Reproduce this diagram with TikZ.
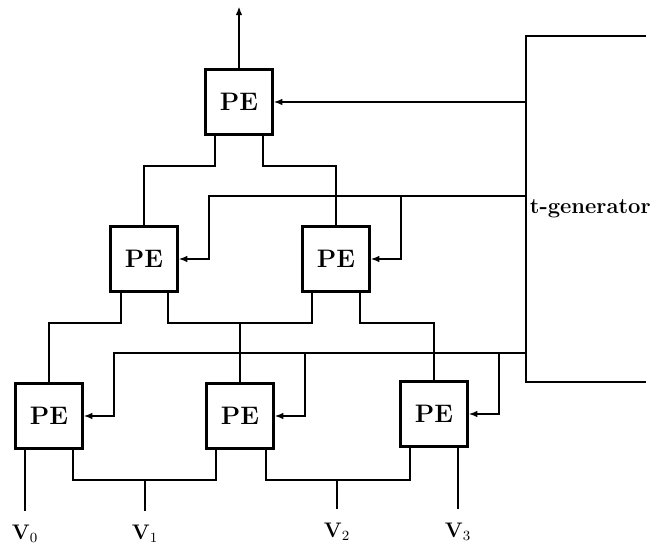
\documentclass[tikz,border=0pt]{standalone}
\usetikzlibrary{positioning,calc,arrows.meta}

\begin{document}
\begin{tikzpicture}[x=0.02cm, y=-0.02cm, line width=1.1pt, >={Latex[length=5pt,width=3.8pt]}]
    % Styles
    \tikzstyle{pe} = [draw, rectangle, line width=1.25pt, minimum width=1.34cm, minimum height=1.3cm, font=\Large\bfseries, inner sep=0pt]
    \tikzstyle{input} = [inner sep=1pt, font=\large]

    \useasboundingbox (0,0) rectangle (650,555);

    % Processing elements, root to leaves
    \node [pe] (P0) at (239,102) {PE};
    \node [pe] (P10) at (144,259) {PE};
    \node [pe] (P11) at (336,259) {PE};
    \node [pe] (P20) at (49,416) {PE};
    \node [pe] (P21) at (240,416) {PE};
    \node [pe] (P22) at (434,414) {PE};

    % t-generator block (runs off to the right)
    \draw (646,36) -- (526,36) -- (526,382) -- (646,382);
    \node [font=\fontsize{12.5}{15}\selectfont\bfseries, anchor=base west, inner sep=0pt] (Tgen) at (529,213) {t-generator};
    \coordinate (T0) at (526,102);
    \coordinate (T1) at (526,196);
    \coordinate (T2) at (526,353);

    % Inputs
    \coordinate (in0) at (25,511);
    \coordinate (in1) at (145,511);
    \coordinate (in2) at (337,509);
    \coordinate (in3) at (458,509);
    \node [input, below=0.22cm of in0] (V0) {$\mathbf{V}_0$};
    \node [input, below=0.22cm of in1] (V1) {$\mathbf{V}_1$};
    \node [input, below=0.22cm of in2] (V2) {$\mathbf{V}_2$};
    \node [input, below=0.22cm of in3] (V3) {$\mathbf{V}_3$};

    % Output
    \draw [->] (P0.north) -- ++(0,-62);

    % Links: root level
    \draw ($(P0.south)+(-24,0)$) -- ++(0,30) -| (P10.north);
    \draw ($(P0.south)+(24,0)$) -- ++(0,30) -| (P11.north);

    % Links: middle level
    \draw ($(P10.south)+(-23,0)$) -- ++(0,30) -| (P20.north);
    \draw ($(P10.south)+(24,0)$) -- ++(0,30) coordinate (b1) -| ($(P11.south)+(-24,0)$);
    \draw ($(P11.south)+(24,0)$) -- ++(0,30) -| (P22.north);
    \draw (P21.north) -- (P21.north |- b1);

    % Links: leaf level
    \draw ($(P20.south)+(-24,0)$) -- (in0);
    \draw ($(P20.south)+(24,0)$) -- ++(0,30) coordinate (b2) -| ($(P21.south)+(-24,0)$);
    \draw ($(P21.south)+(26,0)$) -- ++(0,30) coordinate (b3) -| ($(P22.south)+(-24,0)$);
    \draw ($(P22.south)+(24,0)$) -- (in3);
    \draw (in1) -- (in1 |- b2);
    \draw (in2) -- (in2 |- b3);

    % t-generator feeds
    \path (P10.east) ++(30,0) coordinate (k10);
    \path (P11.east) ++(30,0) coordinate (k11);
    \path (P20.east) ++(30,0) coordinate (k20);
    \path (P21.east) ++(30,0) coordinate (k21);
    \path (P22.east) ++(30,0) coordinate (k22);
    \draw [->] (T0) -- (P0.east);
    \draw [->] (T1) -| (k10) -- (P10.east);
    \draw [->] (k11 |- T1) -- (k11) -- (P11.east);
    \draw [->] (T2) -| (k20) -- (P20.east);
    \draw [->] (k21 |- T2) -- (k21) -- (P21.east);
    \draw [->] (k22 |- T2) -- (k22) -- (P22.east);

\end{tikzpicture}
\end{document}
